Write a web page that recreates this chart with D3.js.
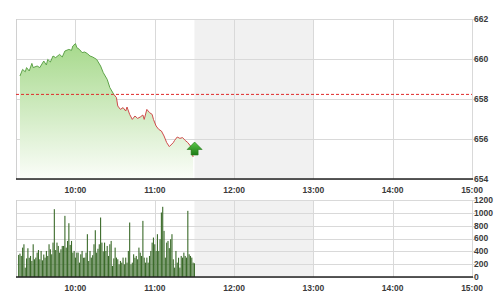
<!DOCTYPE html>
<html>
<head>
<meta charset="utf-8">
<script src="https://cdn.jsdelivr.net/npm/d3@7"></script>
<style>
  body { margin: 0; background: #fff; }
  text { font-family: 'Liberation Sans', Arial, sans-serif; font-size: 8.5px; font-weight: bold; fill: #3a3a3a; }
</style>
</head>
<body>
<svg id="chart" width="501" height="300"></svg>
<script>
// Price points (time, index value)
const priceTimes = ['09:18', '09:20', '09:22', '09:23', '09:25', '09:27', '09:28', '09:31', '09:33', '09:36',
  '09:38', '09:39', '09:41', '09:43', '09:45', '09:48', '09:50', '09:52', '09:55', '09:57',
  '09:58', '10:00', '10:01', '10:03', '10:05', '10:07', '10:09', '10:11', '10:13', '10:16',
  '10:19', '10:21', '10:24', '10:26', '10:29', '10:31', '10:32', '10:34', '10:36', '10:38',
  '10:39', '10:41', '10:43', '10:45', '10:47', '10:49', '10:51', '10:52', '10:54', '10:56',
  '10:58', '10:59', '11:01', '11:03', '11:05', '11:07', '11:09', '11:11', '11:14', '11:15',
  '11:17', '11:19', '11:21', '11:23', '11:25', '11:27', '11:28', '11:29'];
const priceValues = [659.15, 659.48, 659.36, 659.57, 659.40, 659.78, 659.57, 659.65, 659.57, 659.90,
  659.70, 659.98, 659.85, 660.15, 660.07, 660.23, 660.10, 660.40, 660.48, 660.43,
  660.65, 660.77, 660.57, 660.48, 660.32, 660.35, 660.27, 660.15, 660.10, 659.98,
  659.65, 659.32, 658.98, 658.57, 658.23, 658.07, 657.65, 657.48, 657.57, 657.40,
  657.60, 657.23, 656.98, 657.15, 657.03, 657.10, 657.20, 656.98, 657.48, 657.32,
  657.23, 656.98, 656.65, 656.48, 656.40, 656.15, 655.82, 655.62, 655.82, 655.93,
  656.10, 656.03, 656.07, 655.93, 655.82, 655.65, 655.40, 655.10];
const refValue = 658.23;

// Volume, one bar per minute from volStart
const volStart = '09:17';
const volValues = [344, 365, 328, 458, 510, 146, 290, 448, 300, 328, 250, 510, 276, 302, 380, 420, 276, 406, 260, 350,
  302, 406, 328, 510, 432, 354, 536, 1057, 420, 536, 484, 380, 432, 484, 484, 953, 458, 562, 838, 500,
  562, 380, 406, 302, 380, 380, 224, 354, 406, 300, 302, 380, 667, 250, 406, 302, 340, 510, 729, 380,
  440, 510, 927, 536, 400, 536, 406, 484, 328, 510, 562, 172, 290, 458, 302, 276, 198, 250, 224, 302,
  198, 302, 224, 406, 849, 198, 224, 354, 300, 328, 276, 458, 380, 328, 875, 302, 224, 302, 224, 328,
  406, 536, 615, 510, 406, 667, 406, 589, 1005, 1094, 719, 302, 536, 562, 450, 589, 667, 276, 146, 406,
  224, 300, 146, 328, 302, 380, 328, 302, 1031, 354, 328, 302, 224, 214];

const timeTicks = ['10:00', '11:00', '12:00', '13:00', '14:00', '15:00'];
const priceTicks = [654, 656, 658, 660, 662];
const volTicks = [0, 200, 400, 600, 800, 1000, 1200];
const lunchBreak = ['11:30', '13:00'];
const sessionRange = ['09:15', '15:00'];

const parseTime = d3.timeParse('%H:%M');

const price = priceTimes.map((t, i) => ({date: parseTime(t), value: priceValues[i]}));
const volume = volValues.map((v, i) => ({date: d3.timeMinute.offset(parseTime(volStart), i), value: v}));

const svg = d3.select('#chart');

const x = d3.scaleTime()
  .domain(sessionRange.map(parseTime))
  .range([16, 472]);

const y = d3.scaleLinear().domain([654, 662]).range([179, 19]);
const yVol = d3.scaleLinear().domain([0, 1200]).range([277, 200]);

const defs = svg.append('defs');
const grad = defs.append('linearGradient')
  .attr('id', 'areaGrad')
  .attr('gradientUnits', 'userSpaceOnUse')
  .attr('x1', 0).attr('x2', 0)
  .attr('y1', y(660.8)).attr('y2', y(654));
grad.append('stop').attr('offset', 0).attr('stop-color', '#a6d98b');
grad.append('stop').attr('offset', 1).attr('stop-color', '#fbfdf9');

defs.append('clipPath').attr('id', 'aboveRef')
  .append('rect').attr('x', 0).attr('y', 0).attr('width', 501).attr('height', y(refValue));
defs.append('clipPath').attr('id', 'belowRef')
  .append('rect').attr('x', 0).attr('y', y(refValue)).attr('width', 501).attr('height', 300);

// Frame, lunch shading and grids for one panel
function drawPanel(yScale, ticks) {
  const g = svg.append('g');
  const [y0, y1] = yScale.range();

  g.append('rect')
    .attr('x', x(parseTime(lunchBreak[0])))
    .attr('y', y1)
    .attr('width', x(parseTime(lunchBreak[1])) - x(parseTime(lunchBreak[0])))
    .attr('height', y0 - y1)
    .attr('fill', '#f1f1f1');

  g.selectAll('.hgrid')
    .data(ticks)
    .enter().append('line')
      .attr('x1', x.range()[0]).attr('x2', x.range()[1] + 3)
      .attr('y1', d => Math.round(yScale(d)) + 0.5)
      .attr('y2', d => Math.round(yScale(d)) + 0.5)
      .attr('stroke', '#d9d9d9');

  g.selectAll('.vgrid')
    .data(timeTicks)
    .enter().append('line')
      .attr('x1', d => Math.round(x(parseTime(d))) + 0.5)
      .attr('x2', d => Math.round(x(parseTime(d))) + 0.5)
      .attr('y1', y1).attr('y2', y0)
      .attr('stroke', '#d9d9d9');

  g.append('line')
    .attr('x1', x.range()[0] + 0.5).attr('x2', x.range()[0] + 0.5)
    .attr('y1', y1).attr('y2', y0)
    .attr('stroke', '#d0d0d0');

  // labels on the right
  g.selectAll('.ylab')
    .data(ticks)
    .enter().append('text')
      .attr('x', x.range()[1] + 2)
      .attr('y', d => yScale(d))
      .attr('dy', '0.35em')
      .text(d => d);

  // time labels
  g.selectAll('.xlab')
    .data(timeTicks)
    .enter().append('text')
      .attr('x', d => x(parseTime(d)))
      .attr('y', y0 + 14)
      .attr('text-anchor', 'middle')
      .text(d => d);

  return g;
}

drawPanel(y, priceTicks);
drawPanel(yVol, volTicks);

// Price area + line
const area = d3.area()
  .x(d => x(d.date))
  .y0(y(654))
  .y1(d => y(d.value));

const line = d3.line()
  .x(d => x(d.date))
  .y(d => y(d.value));

svg.append('path')
  .attr('d', area(price))
  .attr('fill', 'url(#areaGrad)');

svg.append('line')
  .attr('x1', x.range()[0]).attr('x2', x.range()[1])
  .attr('y1', y(refValue)).attr('y2', y(refValue))
  .attr('stroke', '#e02a2a')
  .attr('stroke-dasharray', '3,2');

svg.append('path')
  .attr('d', line(price))
  .attr('fill', 'none')
  .attr('stroke', '#5fa34a')
  .attr('clip-path', 'url(#aboveRef)');

svg.append('path')
  .attr('d', line(price))
  .attr('fill', 'none')
  .attr('stroke', '#cf4b4b')
  .attr('clip-path', 'url(#belowRef)');

// up arrow at the last price
const last = price[price.length - 1];
const ax = x(last.date) + 1.5;
const ay = y(last.value);
const arrowGrad = defs.append('linearGradient')
  .attr('id', 'arrowGrad')
  .attr('x1', 0).attr('x2', 0).attr('y1', 0).attr('y2', 1);
arrowGrad.append('stop').attr('offset', 0).attr('stop-color', '#5cc84a');
arrowGrad.append('stop').attr('offset', 1).attr('stop-color', '#1d7a16');

svg.append('path')
  .attr('d', `M${ax},${ay - 15} L${ax + 7.5},${ay - 7.5} L${ax + 3.5},${ay - 7.5} L${ax + 3.5},${ay - 2} L${ax - 3.5},${ay - 2} L${ax - 3.5},${ay - 7.5} L${ax - 7.5},${ay - 7.5} Z`)
  .attr('fill', 'url(#arrowGrad)')
  .attr('stroke', '#237a1a')
  .attr('stroke-width', 0.6);

// Volume bars
svg.selectAll('.bar')
  .data(volume)
  .enter().append('rect')
    .attr('x', d => x(d.date) - 0.55)
    .attr('y', d => yVol(d.value))
    .attr('width', 1.1)
    .attr('height', d => yVol(0) - yVol(d.value))
    .attr('fill', '#3b6b2a');

// Bottom axis lines
[y(654), yVol(0)].forEach(yy => {
  svg.append('line')
    .attr('x1', x.range()[0]).attr('x2', x.range()[1] + 1)
    .attr('y1', yy).attr('y2', yy)
    .attr('stroke', '#222')
    .attr('stroke-width', 1.5);
});
</script>
</body>
</html>
